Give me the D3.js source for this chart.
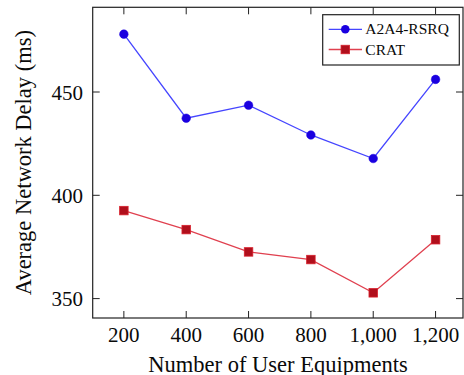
<!DOCTYPE html>
<html>
<head>
<meta charset="utf-8">
<script src="https://cdn.jsdelivr.net/npm/d3@7"></script>
<style>
  html, body { margin: 0; padding: 0; background: #fff; }
  svg { display: block; }
  text { font-family: "Liberation Serif", "Times New Roman", serif; fill: #0a0a0a; }
</style>
</head>
<body>
<svg id="chart" width="464" height="375"></svg>
<script>
const xValues = [200, 400, 600, 800, 1000, 1200];
const a2a4 = [478.0, 437.3, 443.6, 429.2, 417.8, 456.1];
const crat = [392.6, 383.4, 372.6, 368.9, 352.8, 378.5];
const yTicks = [350, 400, 450];
const xTicks = [200, 400, 600, 800, 1000, 1200];
const seriesNames = ["A2A4-RSRQ", "CRAT"];

const svg = d3.select("#chart");
const L = 92.7, R = 463, T = 7.3, B = 318;

const x = d3.scaleLinear().domain([100, 1288]).range([L, R]);
const pxPerUnit = (195.3 - 92) / 50;
const y = d3.scaleLinear()
  .domain([450 - (B - 92) / pxPerUnit, 450 + (92 - T) / pxPerUnit])
  .range([B, T]);

const tickLen = 7;
const g = svg.append("g");
const axisStroke = "#222";

xTicks.forEach(v => {
  g.append("line").attr("x1", x(v)).attr("x2", x(v)).attr("y1", B).attr("y2", B - tickLen)
    .attr("stroke", axisStroke).attr("stroke-width", 1);
  g.append("line").attr("x1", x(v)).attr("x2", x(v)).attr("y1", T).attr("y2", T + tickLen)
    .attr("stroke", axisStroke).attr("stroke-width", 1);
});
yTicks.forEach(v => {
  g.append("line").attr("x1", L).attr("x2", L + tickLen).attr("y1", y(v)).attr("y2", y(v))
    .attr("stroke", axisStroke).attr("stroke-width", 1);
  g.append("line").attr("x1", R).attr("x2", R - tickLen).attr("y1", y(v)).attr("y2", y(v))
    .attr("stroke", axisStroke).attr("stroke-width", 1);
});

g.append("rect").attr("x", L).attr("y", T).attr("width", R - L).attr("height", B - T)
  .attr("fill", "none").attr("stroke", axisStroke).attr("stroke-width", 1.2);

const fmt = d3.format(",");
xTicks.forEach(v => {
  g.append("text").attr("x", x(v)).attr("y", 341.5).attr("text-anchor", "middle")
    .attr("font-size", 21).text(fmt(v));
});
yTicks.forEach(v => {
  g.append("text").attr("x", 83).attr("y", y(v) + 7.5).attr("text-anchor", "end")
    .attr("font-size", 21).text(v);
});

svg.append("text").attr("x", 278).attr("y", 371.5).attr("text-anchor", "middle")
  .attr("font-size", 22.5).text("Number of User Equipments");
svg.append("text").attr("transform", `translate(31,${(T + B) / 2}) rotate(-90)`)
  .attr("text-anchor", "middle").attr("font-size", 22.5).text("Average Network Delay (ms)");

const blueLine = "#4545ff", blueMark = "#1a00e0";
const redLine = "#e0404f", redMark = "#b00f1c", redEdge = "#d8202c";

const line = d3.line().x((d, i) => x(xValues[i])).y(d => y(d));

g.append("path").datum(a2a4).attr("d", line).attr("fill", "none")
  .attr("stroke", blueLine).attr("stroke-width", 1.3);
g.selectAll(".bm").data(a2a4).enter().append("circle")
  .attr("cx", (d, i) => x(xValues[i])).attr("cy", d => y(d)).attr("r", 4.3)
  .attr("fill", blueMark).attr("stroke", blueMark).attr("stroke-width", 0.5);

g.append("path").datum(crat).attr("d", line).attr("fill", "none")
  .attr("stroke", redLine).attr("stroke-width", 1.3);
const sq = 8.5;
g.selectAll(".rm").data(crat).enter().append("rect")
  .attr("x", (d, i) => x(xValues[i]) - sq / 2).attr("y", d => y(d) - sq / 2)
  .attr("width", sq).attr("height", sq)
  .attr("fill", redMark).attr("stroke", redEdge).attr("stroke-width", 0.8);

const lg = svg.append("g");
lg.append("rect").attr("x", 322.7).attr("y", 14.7).attr("width", 136.6).attr("height", 50.3)
  .attr("fill", "#fff").attr("stroke", axisStroke).attr("stroke-width", 1.2);
const legendRows = [
  { name: seriesNames[0], y: 29.3, color: blueLine, mark: "circle" },
  { name: seriesNames[1], y: 49.5, color: redLine, mark: "square" }
];
legendRows.forEach(r => {
  lg.append("line").attr("x1", 328.7).attr("x2", 362).attr("y1", r.y).attr("y2", r.y)
    .attr("stroke", r.color).attr("stroke-width", 1.3);
  if (r.mark === "circle") {
    lg.append("circle").attr("cx", 345.3).attr("cy", r.y).attr("r", 4.3).attr("fill", blueMark);
  } else {
    lg.append("rect").attr("x", 345.3 - sq / 2).attr("y", r.y - sq / 2).attr("width", sq).attr("height", sq)
      .attr("fill", redMark).attr("stroke", redEdge).attr("stroke-width", 0.8);
  }
  lg.append("text").attr("x", 365.3).attr("y", r.y + 5).attr("font-size", 15.5).text(r.name);
});
</script>
</body>
</html>
